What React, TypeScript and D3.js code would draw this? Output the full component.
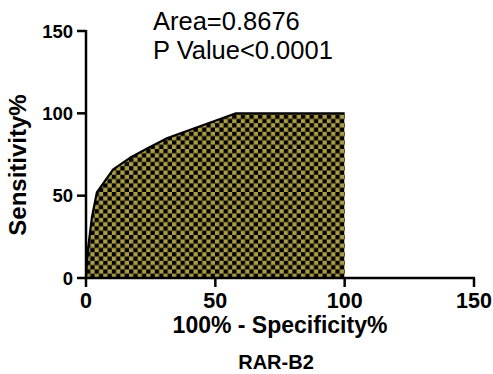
import React from "react";
import * as d3 from "d3";

const fpr = [0, 0.3, 0.8, 2.3, 4.2, 10.5, 17, 24, 31.5, 58, 100];
const tpr = [0, 9, 18, 37, 52, 66, 73, 79, 85, 100, 100];
const xTicks = [0, 50, 100, 150];
const yTicks = [0, 50, 100, 150];
const annotations = ["Area=0.8676", "P Value<0.0001"];
const xTitle = "100% - Specificity%";
const yTitle = "Sensitivity%";
const chartTitle = "RAR-B2";

const W = 493;
const H = 374;
const FONT = "'Liberation Sans', Arial, Helvetica, sans-serif";

export default function App() {
  const x = d3.scaleLinear().domain([0, 150]).range([86, 474]);
  const y = d3.scaleLinear().domain([0, 150]).range([278, 31]);
  const pts: [number, number][] = fpr.map((f, i) => [f, tpr[i]]);
  const area = d3
    .area<[number, number]>()
    .x((d) => x(d[0]))
    .y0(y(0))
    .y1((d) => y(d[1]))
    .curve(d3.curveLinear);
  const line = d3
    .line<[number, number]>()
    .x((d) => x(d[0]))
    .y((d) => y(d[1]))
    .curve(d3.curveLinear);
  const cell = 4.3;
  return (
    <svg
      width={W}
      height={H}
      style={{ position: "absolute", left: 0, top: 0, background: "#fff" }}
      fontFamily={FONT}
    >
      <defs>
        <pattern
          id="checker"
          patternUnits="userSpaceOnUse"
          width={cell * 2}
          height={cell * 2}
          x={x(0)}
          y={y(0)}
        >
          <rect width={cell * 2} height={cell * 2} fill="#aa9c44" />
          <rect width={cell} height={cell} fill="#000" />
          <rect x={cell} y={cell} width={cell} height={cell} fill="#000" />
        </pattern>
      </defs>
      <rect x={0} y={0} width={W} height={H} fill="#fff" />
      <path d={area(pts) || ""} fill="url(#checker)" />
      <path d={line(pts) || ""} fill="none" stroke="#000" strokeWidth={2.2} strokeLinejoin="round" />
      {/* axes */}
      <line x1={x(0)} x2={x(0)} y1={y(150) - 1} y2={y(0) + 1} stroke="#000" strokeWidth={2.5} />
      <line x1={x(0) - 1} x2={x(150) + 1} y1={y(0)} y2={y(0)} stroke="#000" strokeWidth={2.5} />
      {yTicks.map((t) => (
        <g key={"y" + t}>
          <line x1={x(0) - 9} x2={x(0)} y1={y(t)} y2={y(t)} stroke="#000" strokeWidth={2.5} />
          <text
            x={x(0) - 13}
            y={y(t) + 6.5}
            textAnchor="end"
            fontSize={18.5}
            fontWeight="bold"
            fill="#000"
          >
            {t}
          </text>
        </g>
      ))}
      {xTicks.map((t) => (
        <g key={"x" + t}>
          <line x1={x(t)} x2={x(t)} y1={y(0)} y2={y(0) + 9} stroke="#000" strokeWidth={2.5} />
          <text
            x={x(t)}
            y={308}
            textAnchor="middle"
            fontSize={21.5}
            fontWeight="bold"
            fill="#000"
          >
            {t}
          </text>
        </g>
      ))}
      <text x={280} y={333} textAnchor="middle" fontSize={23} fontWeight="bold" fill="#000">
        {xTitle}
      </text>
      <text
        transform={`translate(26,${165}) rotate(-90)`}
        textAnchor="middle"
        fontSize={24}
        fontWeight="bold"
        fill="#000"
      >
        {yTitle}
      </text>
      <text x={276} y={369} textAnchor="middle" fontSize={20} fontWeight="bold" fill="#000">
        {chartTitle}
      </text>
      {annotations.map((a, i) => (
        <text key={a} x={153} y={30 + i * 29} fontSize={25.5} fill="#000">
          {a}
        </text>
      ))}
    </svg>
  );
}
